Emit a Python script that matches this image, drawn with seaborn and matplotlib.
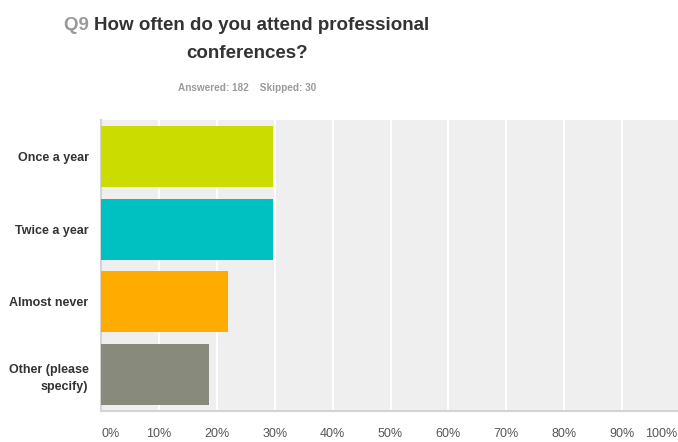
import matplotlib
matplotlib.use("Agg")
import matplotlib.pyplot as plt
import matplotlib.transforms as mtransforms
import pandas as pd
import seaborn as sns

# Survey answers (share of respondents, %)
categories = ["Once a year", "Twice a year", "Almost never", "Other (please\nspecify)"]
responses = [54, 54, 40, 34]
answered = 182
skipped = 30
percent = [r / answered * 100 for r in responses]
bar_colors = ["#cadc00", "#00c1c1", "#ffab00", "#888a7b"]
tick_values = [0, 10, 20, 30, 40, 50, 60, 70, 80, 90, 100]
tick_labels = [f"{v}%" for v in tick_values]

sns.set_theme(style="white")
plt.rcParams["font.family"] = ["Liberation Sans", "DejaVu Sans"]

W, H = 678, 442
fig = plt.figure(figsize=(W / 100, H / 100), dpi=100)
ax = fig.add_axes([101 / W, 1 - 411 / H, (680 - 101) / W, 291 / H])

df = pd.DataFrame({"answer": categories, "pct": percent})
sns.barplot(data=df, y="answer", x="pct", hue="answer", palette=bar_colors,
            order=categories, hue_order=categories, width=0.84,
            legend=False, ax=ax, saturation=1, linewidth=0, zorder=3)

ax.set_facecolor("#efefef")
ax.set_xlim(0, 100)
ax.set_ylim(3.5, -0.5)
ax.set_xticks(tick_values)
ax.set_xticklabels(tick_labels)
ax.xaxis.grid(True, color="white", linewidth=1.4, zorder=1)
ax.set_axisbelow(True)
ax.set_xlabel("")
ax.set_ylabel("")

for side in ["top", "right"]:
    ax.spines[side].set_visible(False)
for side in ["left", "bottom"]:
    ax.spines[side].set_color("#d4d4d4")
    ax.spines[side].set_linewidth(1.5)

ax.tick_params(axis="x", length=0, pad=12, labelsize=9, labelcolor="#555555")
ax.tick_params(axis="y", length=0, pad=9, labelsize=9, labelcolor="#333333")
for lbl in ax.get_yticklabels():
    lbl.set_fontweight("bold")
    lbl.set_horizontalalignment("right")
    lbl.set_multialignment("right")
    lbl.set_linespacing(1.5)

xl = ax.get_xticklabels()
xl[0].set_horizontalalignment("left")
xl[-1].set_horizontalalignment("right")
xl[-1].set_transform(xl[-1].get_transform() +
                     mtransforms.ScaledTranslation(-3 / 100, 0, fig.dpi_scale_trans))

# Title: grey question number followed by the question text
renderer = fig.canvas.get_renderer()
cx = 247
q_txt = fig.text(0, 0, "Q9 ", fontsize=13.5, fontweight="bold", color="#9a9a9a")
m_txt = fig.text(0, 0, "How often do you attend professional", fontsize=13.5,
                 fontweight="bold", color="#333333")
wq = q_txt.get_window_extent(renderer).width
wm = m_txt.get_window_extent(renderer).width
x0 = cx - (wq + wm) / 2
y1 = 1 - 30 / H
q_txt.set_position((x0 / W, y1))
m_txt.set_position(((x0 + wq) / W, y1))
q_txt.set_va("baseline")
m_txt.set_va("baseline")

fig.text(cx / W, 1 - 58 / H, "conferences?", fontsize=13.5, fontweight="bold",
         color="#333333", ha="center", va="baseline")

fig.text(cx / W, 1 - 91 / H, f"Answered: {answered}    Skipped: {skipped}",
         fontsize=7.2, fontweight="bold", color="#9a9a9a", ha="center", va="baseline")

fig.savefig("out.png", dpi=100, facecolor="white")
